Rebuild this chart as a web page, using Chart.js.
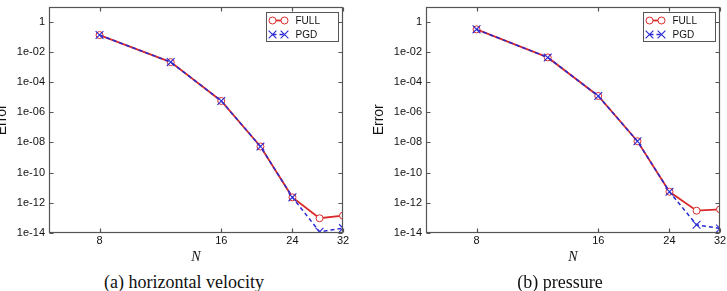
<!DOCTYPE html>
<html>
<head>
<meta charset="utf-8">
<script src="https://cdn.jsdelivr.net/npm/chart.js@4.4.1/dist/chart.umd.min.js"></script>
<style>
  html, body { margin: 0; padding: 0; background: #fff; width: 727px; height: 291px; overflow: hidden; }
  .panel { position: absolute; top: 0; width: 380px; height: 270px; }
  .caption { position: absolute; top: 272px; width: 240px; text-align: center;
             font: 18px "Liberation Serif", serif; line-height: 20px; color: #111; }
</style>
</head>
<body>
<div class="panel" style="left:-29px"><canvas id="chartVel" width="380" height="270"></canvas></div>
<div class="panel" style="left:348px"><canvas id="chartPres" width="380" height="270"></canvas></div>
<div class="caption" style="left:64px">(a) horizontal velocity</div>
<div class="caption" style="left:440px">(b) pressure</div>

<script>
// ─── Data ─────────────────────────────────────────────────────────────────────

const N_VALUES = [8, 12, 16, 20, 24, 28, 32];

const VEL_FULL = [0.13, 2.1e-3, 5.6e-6, 5.4e-9, 2.3e-12, 9.5e-14, 1.4e-13];
const VEL_PGD  = [0.13, 2.1e-3, 5.6e-6, 5.4e-9, 2.3e-12, 1.2e-14, 2.1e-14];

const PRES_FULL = [0.31, 4.3e-3, 1.2e-5, 1.2e-8, 5.4e-12, 3.0e-13, 3.7e-13];
const PRES_PGD  = [0.31, 4.3e-3, 1.2e-5, 1.2e-8, 5.4e-12, 3.5e-14, 2.0e-14];

const X_TICKS = [8, 16, 24, 32];
const Y_TICKS = [1, 1e-2, 1e-4, 1e-6, 1e-8, 1e-10, 1e-12, 1e-14];
const Y_TICK_LABELS = ["1", "1e-02", "1e-04", "1e-06", "1e-08", "1e-10", "1e-12", "1e-14"];

// ─── Style ────────────────────────────────────────────────────────────────────

const RED        = "#d92b2b";
const BLUE       = "#2a2ad2";
const AXIS_COLOR = "#555";
const TEXT_COLOR = "#111";
const TICK_LEN   = 4;
const SANS       = "'Liberation Sans', Arial, sans-serif";

// ─── Plugins ──────────────────────────────────────────────────────────────────

const frameTicks = {
  id: "frameTicks",
  afterDatasetsDraw(chart) {
    const { ctx, chartArea: a, scales: { x, y } } = chart;
    const L = Math.round(a.left) + 0.5, R = Math.round(a.right) - 0.5;
    const T = Math.round(a.top) + 0.5,  B = Math.round(a.bottom) - 0.5;
    ctx.save();
    ctx.strokeStyle = AXIS_COLOR;
    ctx.lineWidth = 1.2;
    ctx.beginPath();
    for (const t of x.ticks) {
      const px = Math.round(x.getPixelForValue(t.value)) + 0.5;
      ctx.moveTo(px, B); ctx.lineTo(px, B - TICK_LEN);
      ctx.moveTo(px, T); ctx.lineTo(px, T + TICK_LEN);
    }
    for (const t of y.ticks) {
      const py = Math.round(y.getPixelForValue(t.value)) + 0.5;
      ctx.moveTo(L, py); ctx.lineTo(L + TICK_LEN, py);
      ctx.moveTo(R, py); ctx.lineTo(R - TICK_LEN, py);
    }
    ctx.stroke();
    ctx.strokeRect(L, T, R - L, B - T);
    ctx.restore();
  },
};

const boxLegend = {
  id: "boxLegend",
  afterDraw(chart) {
    const { ctx, chartArea: a } = chart;
    const w = 72, h = 29;
    const left = Math.round(a.right - 5 - w) + 0.5;
    const top  = Math.round(a.top + 5) + 0.5;
    ctx.save();
    ctx.fillStyle = "#fff";
    ctx.fillRect(left, top, w, h);
    ctx.strokeStyle = AXIS_COLOR;
    ctx.lineWidth = 1;
    ctx.strokeRect(left, top, w, h);

    chart.data.datasets.forEach((ds, i) => {
      const cy = top + 8 + i * 14;
      ctx.strokeStyle = ds.borderColor;
      ctx.lineWidth = ds.borderWidth;
      ctx.setLineDash(ds.borderDash || []);
      ctx.beginPath();
      ctx.moveTo(left + 6, cy);
      ctx.lineTo(left + 18, cy);
      ctx.stroke();
      ctx.setLineDash([]);

      ctx.fillStyle = ds.pointBackgroundColor;
      ctx.strokeStyle = ds.pointBorderColor;
      ctx.lineWidth = ds.pointBorderWidth;
      for (const px of [left + 6, left + 18]) {
        Chart.helpers.drawPoint(ctx, {
          pointStyle: ds.pointStyle, radius: ds.pointRadius,
          borderWidth: ds.pointBorderWidth, rotation: 0,
        }, px, cy);
      }

      ctx.fillStyle = TEXT_COLOR;
      ctx.font = `10px ${SANS}`;
      ctx.textBaseline = "middle";
      ctx.fillText(ds.label, left + 29, cy + 0.5);
    });
    ctx.restore();
  },
};

// ─── Charts ───────────────────────────────────────────────────────────────────

const toPoints = (ys) => N_VALUES.map((n, i) => ({ x: n, y: ys[i] }));

function buildChart(canvasId, full, pgd) {
  return new Chart(document.getElementById(canvasId), {
    type: "line",
    data: {
      datasets: [
        {
          label: "FULL",
          data: toPoints(full),
          borderColor: RED,
          borderWidth: 1.8,
          pointStyle: "circle",
          pointRadius: 3.5,
          pointBackgroundColor: "#fff",
          pointBorderColor: RED,
          pointBorderWidth: 1,
          clip: 0,
          order: 1,
        },
        {
          label: "PGD",
          data: toPoints(pgd),
          borderColor: BLUE,
          borderWidth: 1.5,
          borderDash: [4, 3],
          pointStyle: "crossRot",
          pointRadius: 5.5,
          pointBackgroundColor: BLUE,
          pointBorderColor: BLUE,
          pointBorderWidth: 1.1,
          clip: 0,
          order: 0,
        },
      ],
    },
    options: {
      responsive: false,
      animation: false,
      devicePixelRatio: 1,
      layout: { padding: { top: 5, right: 8, left: 0, bottom: 0 } },
      plugins: { legend: { display: false }, tooltip: { enabled: false } },
      scales: {
        x: {
          type: "logarithmic",
          bounds: "data",
          min: 6,
          max: 32,
          grid: { display: false, drawTicks: false },
          border: { display: false },
          afterBuildTicks: (s) => { s.ticks = X_TICKS.map((v) => ({ value: v })); },
          afterFit: (s) => { s.height = 37; s.paddingLeft = 0; s.paddingRight = 0; },
          ticks: {
            autoSkip: false,
            maxRotation: 0,
            padding: 1,
            color: TEXT_COLOR,
            font: { family: SANS, size: 11 },
            callback: (v) => String(v),
          },
          title: {
            display: true,
            text: "N",
            color: TEXT_COLOR,
            font: { family: "'Liberation Serif', serif", size: 14, style: "italic" },
            padding: { top: 0, bottom: 4 },
          },
        },
        y: {
          type: "logarithmic",
          bounds: "data",
          min: 1e-14,
          max: 10,
          grid: { display: false, drawTicks: false },
          border: { display: false },
          afterBuildTicks: (s) => { s.ticks = Y_TICKS.map((v) => ({ value: v })); },
          afterFit: (s) => { s.width = 78; s.paddingTop = 0; s.paddingBottom = 0; },
          ticks: {
            autoSkip: false,
            padding: 4,
            color: TEXT_COLOR,
            font: { family: SANS, size: 11 },
            callback: (v) => Y_TICK_LABELS[Y_TICKS.findIndex((t) => Math.abs(Math.log10(t) - Math.log10(v)) < 1e-6)],
          },
          title: {
            display: true,
            text: "Error",
            color: TEXT_COLOR,
            font: { family: SANS, size: 14 },
            padding: { top: 23, bottom: 0 },
          },
        },
      },
    },
    plugins: [frameTicks, boxLegend],
  });
}

buildChart("chartVel", VEL_FULL, VEL_PGD);
buildChart("chartPres", PRES_FULL, PRES_PGD);
</script>
</body>
</html>
